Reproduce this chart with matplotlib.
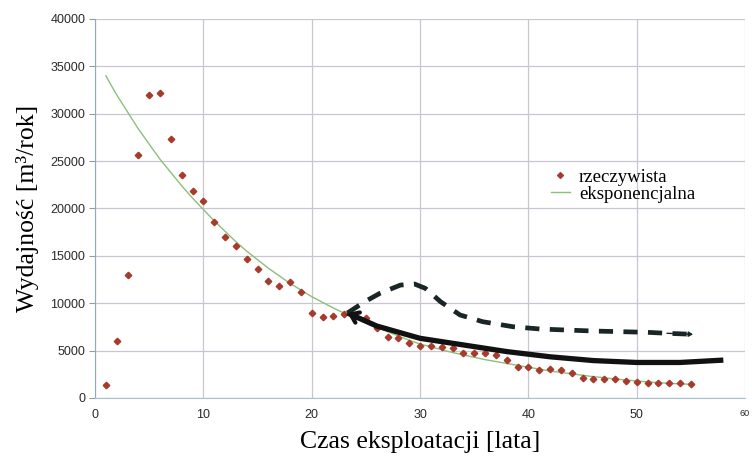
import matplotlib
matplotlib.use("Agg")
import matplotlib.pyplot as plt

# ---- data ----
years = list(range(1, 56))
actual = [1400, 6000, 13000, 25600, 32000, 32200, 27300, 23500, 21800, 20800,
          18600, 17000, 16000, 14700, 13600, 12400, 11800, 12200, 11200, 9000,
          8600, 8700, 8900, 8700, 8400, 7400, 6400, 6300, 5800, 5500,
          5500, 5400, 5300, 4750, 4750, 4750, 4540, 4000, 3270, 3270,
          2950, 3060, 2950, 2640, 2110, 2000, 2000, 2000, 1800, 1690,
          1580, 1580, 1580, 1580, 1480]

exp_x = list(range(1, 56))
exp_y = [34000, 32000, 30200, 28400, 26800, 25200, 23800, 22400, 21100, 19900,
         18700, 17600, 16500, 15500, 14600, 13700, 12900, 12100, 11400, 10700,
         10100, 9500, 8950, 8450, 7950, 7500, 7000, 6550, 6100, 5700,
         5400, 5100, 4800, 4550, 4300, 4050, 3850, 3650, 3450, 3250,
         3050, 2850, 2700, 2550, 2400, 2250, 2150, 2000, 1900, 1800,
         1700, 1620, 1550, 1490, 1450]

solid_x = [23.3, 26, 30, 34, 38, 42, 46, 50, 54, 58]
solid_y = [8970, 7600, 6300, 5600, 4900, 4350, 3950, 3750, 3750, 4000]

dash_x = [23.3, 24.9, 26.3, 28.2, 29.5, 30.5, 31.9, 33.7, 35.8, 38.6, 41.1,
          43.6, 46, 48.5, 51, 52.8, 55.2]
dash_y = [8970, 10160, 11050, 11920, 12030, 11570, 10160, 8760, 8050, 7520,
          7280, 7170, 7070, 7000, 6930, 6830, 6720]

xticks = [0, 10, 20, 30, 40, 50, 60]
yticks = [0, 5000, 10000, 15000, 20000, 25000, 30000, 35000, 40000]

legend_labels = ["rzeczywista", "eksponencjalna"]
xlabel = "Czas eksploatacji [lata]"
ylabel = "Wydajność [m³/rok]"

# ---- figure ----
fig = plt.figure(figsize=(7.52, 4.59), dpi=100)
ax = fig.add_axes([95/752, 61/459, 650/752, 379/459])
ax.set_xlim(0, 60)
ax.set_ylim(0, 40000)

ax.set_xticks(xticks)
ax.set_yticks(yticks)
ax.grid(True, color="#c9c6d0", lw=0.9)
ax.set_axisbelow(True)
for s in ["top", "right"]:
    ax.spines[s].set_visible(False)
ax.spines["left"].set_color("#8fa9c0")
ax.spines["bottom"].set_color("#a9c0d0")
ax.tick_params(axis="y", length=4, color="#999999", labelsize=9,
               labelcolor="#2a2a2a", pad=3)
ax.tick_params(axis="x", length=0, labelsize=9, labelcolor="#2a2a2a", pad=8)
for lab in ax.get_xticklabels() + ax.get_yticklabels():
    lab.set_fontfamily("Liberation Sans")
xl = ax.get_xticklabels()
xl[-1].set_fontsize(6.5)

ax.plot(years, actual, linestyle="none", marker="D", markersize=3.3,
        color="#a83a2c", label=legend_labels[0], zorder=3)
ax.plot(exp_x, exp_y, color="#8cbf7a", lw=1.0, label=legend_labels[1], zorder=2)

ax.plot(solid_x, solid_y, color="#111111", lw=3.8, solid_capstyle="butt", zorder=4)
ln, = ax.plot(dash_x, dash_y, color="#1a2626", lw=3.4, zorder=4)
ln.set_dashes((3.0, 2.2))

# arrowheads
ax.annotate("", xy=(solid_x[0], solid_y[0]), xytext=(solid_x[1], solid_y[1]),
            arrowprops=dict(arrowstyle="->,head_length=0.55,head_width=0.4",
                            color="#111111", lw=3.0, shrinkA=0, shrinkB=0),
            zorder=5)
ax.annotate("", xy=(dash_x[-1], dash_y[-1]), xytext=(dash_x[-2], dash_y[-2]),
            arrowprops=dict(arrowstyle="-|>,head_length=0.25,head_width=0.15",
                            color="#1a2626", lw=1.0, shrinkA=0, shrinkB=0),
            zorder=5)

leg = ax.legend(loc="upper left", bbox_to_anchor=(0.681, 0.64), frameon=False,
                prop={"family": "Liberation Serif", "size": 13.5},
                handlelength=1.0, handletextpad=0.5, labelspacing=0.0,
                borderpad=0.2, markerscale=0.9)

ax.set_xlabel(xlabel, family="Liberation Serif", fontsize=18.5, labelpad=7)
ax.set_ylabel(ylabel, family="Liberation Serif", fontsize=18.5, labelpad=8)

fig.savefig("out.png", dpi=100)
